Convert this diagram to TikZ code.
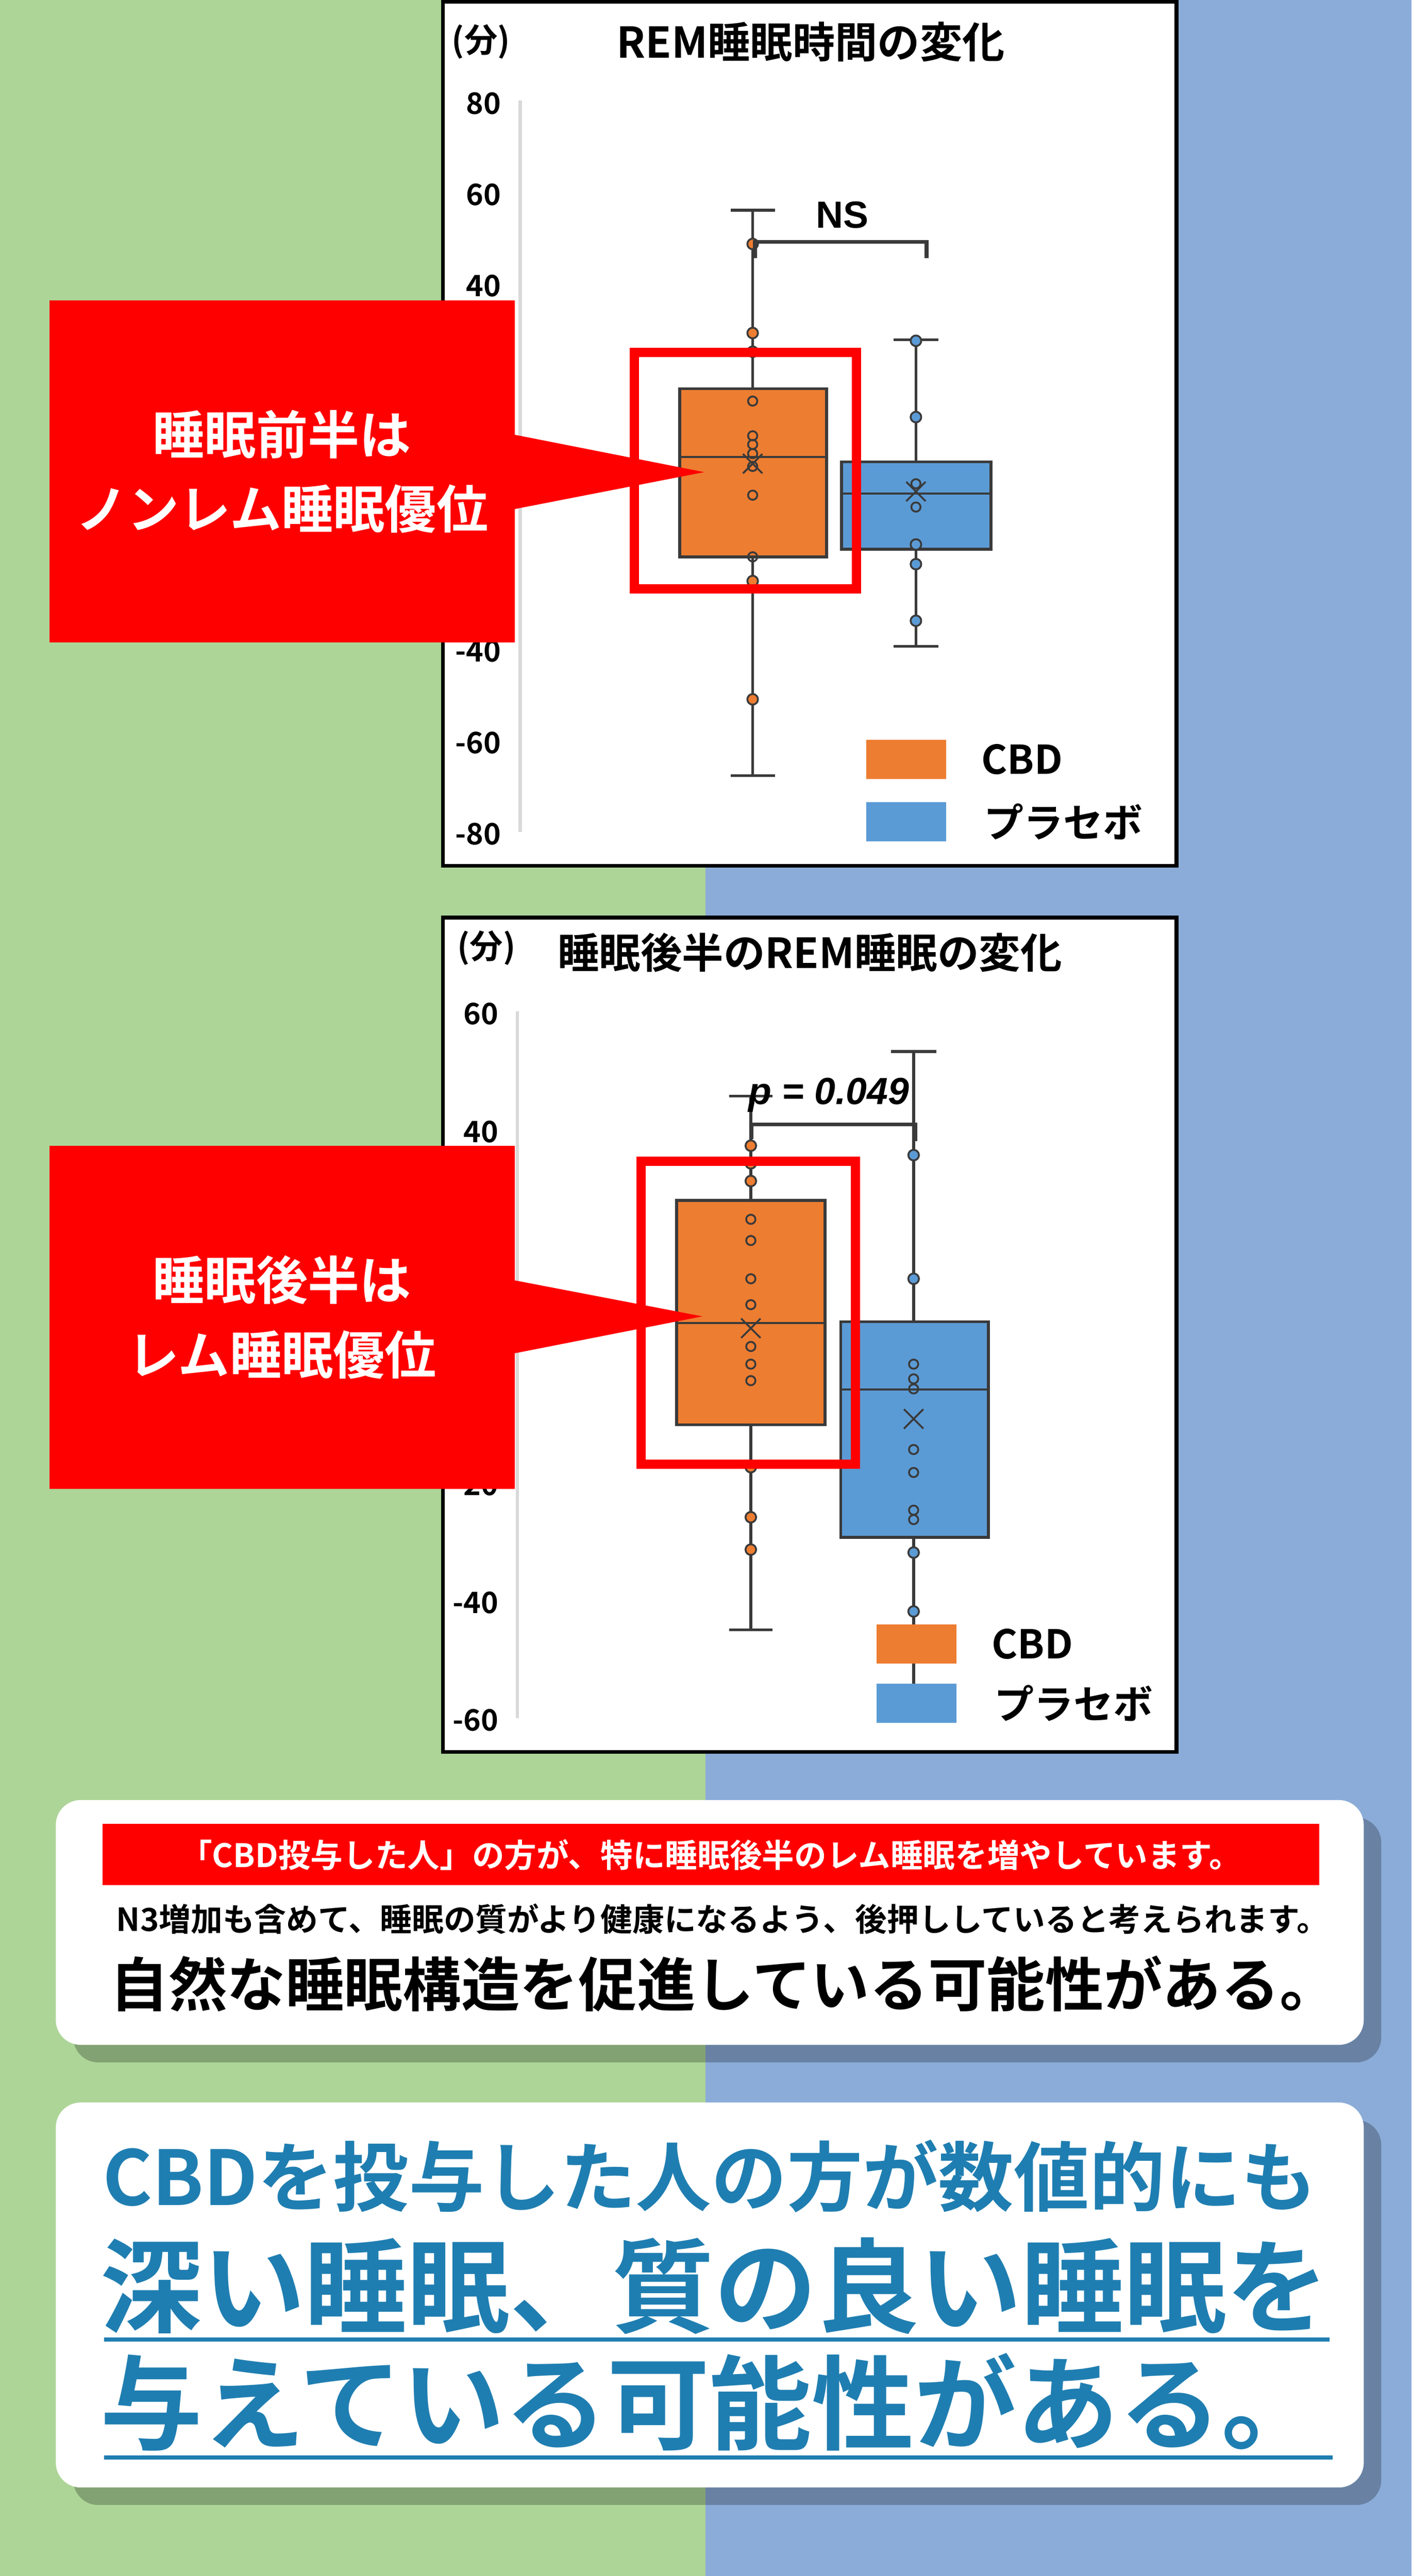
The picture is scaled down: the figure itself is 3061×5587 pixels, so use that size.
\documentclass[tikz,border=0pt]{standalone}
\usepackage{fontspec}
\setmainfont{Noto Sans CJK JP}[BoldFont={Noto Sans CJK JP Bold}]
\newfontfamily\latinfont{Liberation Sans}
\usepackage{tikz}
\usetikzlibrary{positioning,shapes.misc}
\usepackage{xcolor}
\definecolor{bggreen}{RGB}{173,213,152}
\definecolor{bgblue}{RGB}{139,172,216}
\definecolor{cbdorange}{RGB}{237,125,49}
\definecolor{plcblue}{RGB}{91,155,213}
\definecolor{boxline}{RGB}{58,58,58}
\definecolor{axisgray}{RGB}{217,217,217}
\definecolor{alertred}{RGB}{255,0,0}
\definecolor{msgblue}{RGB}{31,126,177}
\newcommand{\fsz}[2]{\fontsize{#1}{#2}\selectfont}
\tikzstyle{chartframe} = [draw=black, fill=white, line width=4pt]
\tikzstyle{yaxis} = [draw=axisgray, line width=3.5pt]
\tikzstyle{ticklabel} = [anchor=east, inner sep=0pt, font=\fsz{32}{38}\bfseries]
\tikzstyle{whisker} = [draw=boxline, line width=3pt]
\tikzstyle{median} = [draw=boxline, line width=2.25pt]
\tikzstyle{cbdbox} = [draw=boxline, fill=cbdorange, line width=3.25pt]
\tikzstyle{plcbox} = [draw=boxline, fill=plcblue, line width=3.25pt]
\tikzstyle{cbddot} = [draw=boxline, fill=cbdorange, line width=2pt]
\tikzstyle{plcdot} = [draw=boxline, fill=plcblue, line width=2pt]
\tikzstyle{ring} = [draw=boxline, line width=2pt]
\tikzstyle{meanmark} = [cross out, draw=boxline, line width=2pt, minimum size=19pt, inner sep=0pt]
\tikzstyle{focus} = [draw=alertred, line width=10pt]
\tikzstyle{bracket} = [draw=boxline, line width=4pt]
\tikzstyle{callout} = [fill=alertred, text=white, font=\fsz{56}{80.5}\bfseries, align=center, inner sep=0pt, minimum width=504.5pt]
\tikzstyle{legendkey} = [minimum width=86.5pt, minimum height=42.5pt, inner sep=0pt]
\tikzstyle{legendtext} = [font=\fsz{43}{50}\bfseries, inner sep=0pt]
\tikzstyle{panel} = [fill=white, rounded corners=27pt]
\tikzstyle{panelshadow} = [fill=black, opacity=0.24, rounded corners=27pt]
\tikzstyle{bigline} = [anchor=west, inner sep=0pt, text=msgblue]

\begin{document}
\begin{tikzpicture}[x=0.5pt, y=-0.5pt]
\useasboundingbox (0,0) rectangle (3061,5587);
% background halves
\fill[bggreen] (0,0) rectangle (1530,5587);
\fill[bgblue] (1530,0) rectangle (3061,5587);

% Chart 1
\draw[chartframe] (960,4) rectangle (2551,1878);
\node[inner sep=0pt, font=\fsz{36}{42}\bfseries] (unitA) at (1043,91) {(分)};
\node[inner sep=0pt, font=\fsz{46}{54}\bfseries] (titleA) at (1758,91) {REM睡眠時間の変化};
\begin{scope}[shift={(0,1016.5)}, y=4.953pt]
\draw[yaxis] (1128,80.6) -- (1128,-79.6);
\foreach \t [count=\i] in {80,60,40,-40,-60,-80}
  \node[ticklabel] (tickA\i) at (1087,\t) {\t};
% CBD
\draw[whisker] (1632,56.6) -- (1632,-67.2);
\draw[whisker] (1584,56.6) -- (1680,56.6);
\draw[whisker] (1584,-67.2) -- (1680,-67.2);
\draw[cbdbox] (1474,17.5) rectangle (1792,-19.3);
\draw[median] (1474,2.6) -- (1792,2.6);
\foreach \v in {49.2,29.7,25.6,-24.6,-50.5}
  \draw[cbddot] (1632,\v) circle[radius=5.75pt];
\foreach \v in {14.8,7.2,5.3,3.3,0.5,-5.8,-19.3}
  \draw[ring] (1632,\v) circle[radius=5pt];
\node[meanmark] (cbdmeanA) at (1632,1.1) {};
% placebo
\draw[whisker] (1986,28.2) -- (1986,-38.9);
\draw[whisker] (1937,28.2) -- (2035,28.2);
\draw[whisker] (1937,-38.9) -- (2035,-38.9);
\draw[plcbox] (1825,1.5) rectangle (2149,-17.6);
\draw[median] (1825,-5.5) -- (2149,-5.5);
\foreach \v in {28.0,11.3,-16.6,-20.9,-33.3}
  \draw[plcdot] (1986,\v) circle[radius=5.75pt];
\foreach \v in {-3.3,-8.4}
  \draw[ring] (1986,\v) circle[radius=5pt];
\node[meanmark] (plcmeanA) at (1986,-5.0) {};
\end{scope}
% NS bracket
\draw[bracket] (1637,560) -- (1637,525) -- (2009,525) -- (2009,560);
\node[inner sep=0pt, font=\latinfont\fsz{41}{48}\bfseries] (nsA) at (1826,466) {NS};
\draw[focus] (1375,764) rectangle (1857,1277);
% legend
\node[legendkey, fill=cbdorange] (keyA1) at (1964.5,1647.5) {};
\node[legendkey, fill=plcblue] (keyA2) at (1964.5,1782.5) {};
\node[legendtext, right=38pt of keyA1] (cbdA) {CBD};
\node[legendtext, right=41pt of keyA2] (plcA) {プラセボ};
% callout
\node[callout, minimum height=370.5pt] (noteA) at (611.5,1022.5) {睡眠前半は\\ノンレム睡眠優位};
\fill[alertred] ([yshift=39.75pt]noteA.east) -- (1527,1024) -- ([yshift=-40.75pt]noteA.east) -- cycle;

% Chart 2
\draw[chartframe] (960,1990) rectangle (2551,3800);
\node[inner sep=0pt, font=\fsz{36}{42}\bfseries] (unitB) at (1055,2056) {(分)};
\node[inner sep=0pt, font=\fsz{45}{54}\bfseries] (titleB) at (1756,2066) {睡眠後半のREM睡眠の変化};
\begin{scope}[shift={(0,2965)}, y=6.385pt]
\draw[yaxis] (1122,60.4) -- (1122,-59.6);
\foreach \t [count=\i] in {60,40,-20,-40,-60}
  \node[ticklabel] (tickB\i) at (1081,\t) {\t};
% CBD
\draw[whisker] (1628,46.0) -- (1628,-44.6);
\draw[whisker] (1581,46.0) -- (1675,46.0);
\draw[whisker] (1581,-44.6) -- (1675,-44.6);
\draw[cbdbox] (1467,28.3) rectangle (1789,-9.8);
\draw[median] (1467,7.5) -- (1789,7.5);
\foreach \v in {37.6,34.6,31.6,-17.0,-25.5,-31.0}
  \draw[cbddot] (1628,\v) circle[radius=5.75pt];
\foreach \v in {25.1,21.5,15.0,10.6,3.5,0.5,-2.3}
  \draw[ring] (1628,\v) circle[radius=5pt];
\node[meanmark] (cbdmeanB) at (1628,6.6) {};
% placebo
\draw[whisker] (1981,53.6) -- (1981,-57.6);
\draw[whisker] (1932,53.6) -- (2030,53.6);
\draw[whisker] (1932,-57.6) -- (2030,-57.6);
\draw[plcbox] (1823,7.7) rectangle (2143,-28.9);
\draw[median] (1823,-3.8) -- (2143,-3.8);
\foreach \v in {36.0,15.0,-31.5,-41.5}
  \draw[plcdot] (1981,\v) circle[radius=5.75pt];
\foreach \v in {0.5,-2.0,-3.7,-14.0,-17.9,-24.3,-25.9}
  \draw[ring] (1981,\v) circle[radius=5pt];
\node[meanmark] (plcmeanB) at (1981,-8.8) {};
\end{scope}
% p bracket
\draw[bracket] (1630,2470) -- (1630,2439) -- (1985,2439) -- (1985,2475);
\node[inner sep=0pt, font=\latinfont\fsz{41}{46}\bfseries\itshape] (pval) at (1797,2375) {p = 0.049};
\draw[focus] (1390,2519) rectangle (1855,3176);
% legend
\node[legendkey, fill=cbdorange] (keyB1) at (1987,3565.5) {};
\node[legendkey, fill=plcblue] (keyB2) at (1987,3694.5) {};
\node[legendtext, right=38pt of keyB1] (cbdB) {CBD};
\node[legendtext, right=41pt of keyB2] (plcB) {プラセボ};
% callout
\node[callout, minimum height=372pt] (noteB) at (611.5,2857) {睡眠後半は\\レム睡眠優位};
\fill[alertred] ([yshift=40pt]noteB.east) -- (1523,2855) -- ([yshift=-39pt]noteB.east) -- cycle;

% Summary panel
\fill[panelshadow] (159,3942) rectangle (2995,4473);
\fill[panel] (121,3904) rectangle (2957,4435);
\node[fill=alertred, minimum width=1319pt, minimum height=66.5pt, inner sep=0pt, text=white, font=\fsz{35}{40}\bfseries] (banner) at (1541,4022.5) {「CBD投与した人」の方が、特に睡眠後半のレム睡眠を増やしています。};
\node[anchor=west, inner sep=0pt, font=\fsz{34.5}{40}\bfseries] (detail) at (252,4162) {N3増加も含めて、睡眠の質がより健康になるよう、後押ししていると考えられます。};
\node[anchor=west, inner sep=0pt, font=\fsz{63.5}{72}\bfseries] (claim) at (238,4302) {自然な睡眠構造を促進している可能性がある。};

% Conclusion panel
\fill[panelshadow] (159,4598) rectangle (2995,5433);
\fill[panel] (121,4560) rectangle (2957,5395);
\node[bigline, font=\fsz{82}{96}\bfseries] (lead) at (222,4720) {CBDを投与した人の方が数値的にも};
\node[bigline, font=\fsz{111}{128}\bfseries] (deep) at (217,4958) {深い睡眠、質の良い睡眠を};
\node[bigline, font=\fsz{111}{128}\bfseries] (give) at (217,5210) {与えている可能性がある。};
\draw[msgblue, line width=4pt] (226,5074) -- (2883,5074);
\draw[msgblue, line width=4pt] (226,5330) -- (2889,5330);
\end{tikzpicture}
\end{document}
